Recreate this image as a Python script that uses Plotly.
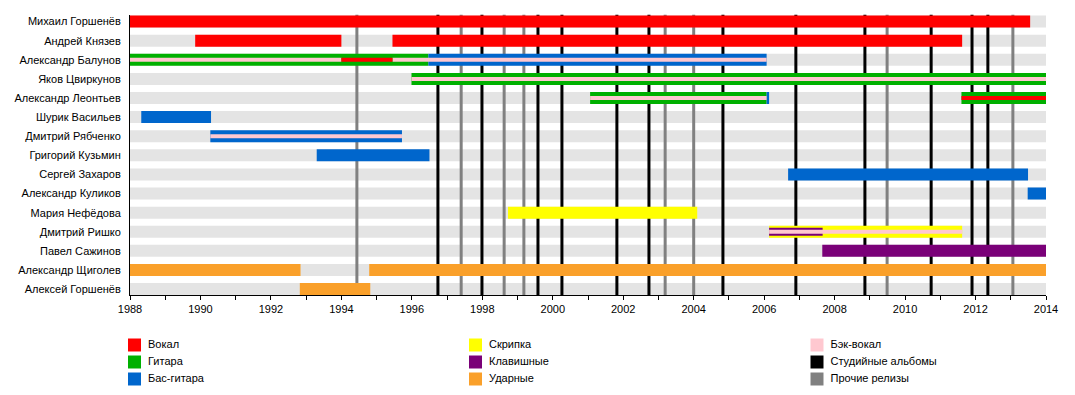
import plotly.graph_objects as go

W, H = 1075, 395
OFF = 8  # page body margin of the rendered html

members = [
    "Михаил Горшенёв", "Андрей Князев", "Александр Балунов", "Яков Цвиркунов",
    "Александр Леонтьев", "Шурик Васильев", "Дмитрий Рябченко", "Григорий Кузьмин",
    "Сергей Захаров", "Александр Куликов", "Мария Нефёдова", "Дмитрий Ришко",
    "Павел Сажинов", "Александр Щиголев", "Алексей Горшенёв",
]

# main (outer) bars
bar_member = [0, 1, 1, 2, 2, 3, 4, 4, 4, 5, 6, 7, 8, 9, 10, 11, 12, 13, 13, 14]
bar_start = [1988.0, 1989.85, 1995.45, 1988.0, 1996.47, 1995.99, 2001.06, 2006.07, 2011.6,
             1988.32, 1990.28, 1993.3, 2006.68, 2013.48, 1998.73, 2006.14, 2007.65,
             1988.0, 1994.79, 1992.82]
bar_end = [2013.55, 1994.0, 2011.62, 1996.47, 2006.07, 2014.0, 2006.07, 2006.14, 2014.0,
           1990.3, 1995.72, 1996.5, 2013.49, 2014.0, 2004.1, 2011.62, 2014.0,
           1992.84, 2014.0, 1994.82]
bar_role = ["Вокал", "Вокал", "Вокал", "Гитара", "Бас-гитара", "Гитара", "Гитара", "Бас-гитара",
            "Гитара", "Бас-гитара", "Бас-гитара", "Бас-гитара", "Бас-гитара", "Бас-гитара",
            "Скрипка", "Скрипка", "Клавишные", "Ударные", "Ударные", "Ударные"]

# secondary (middle) bars
mid_member = [11]
mid_start = [2006.14]
mid_end = [2007.66]
mid_role = ["Клавишные"]

# inner stripes
inner_member = [2, 2, 2, 3, 4, 4, 6, 11]
inner_start = [1988.0, 1994.0, 1995.45, 1995.99, 2001.06, 2011.6, 1990.28, 2006.14]
inner_end = [1994.0, 1995.45, 2006.07, 2014.0, 2006.07, 2014.0, 1995.72, 2011.62]
inner_role = ["Бэк-вокал", "Вокал", "Бэк-вокал", "Бэк-вокал", "Бэк-вокал", "Вокал",
              "Бэк-вокал", "Бэк-вокал"]

studio_albums = [1996.74, 1997.99, 1999.58, 2000.26, 2001.82, 2002.73, 2004.83,
                 2006.9, 2008.86, 2010.74, 2011.9, 2012.35]
other_releases = [1994.44, 1997.4, 1998.62, 1999.18, 2003.19, 2004.0, 2009.49, 2013.06]

legend_labels = ["Вокал", "Гитара", "Бас-гитара", "Скрипка", "Клавишные", "Ударные",
                 "Бэк-вокал", "Студийные альбомы", "Прочие релизы"]
legend_colors = ["#ff0000", "#00b000", "#0066cc", "#ffff00", "#7a0078", "#faa02a",
                 "#ffc8d0", "#000000", "#808080"]
colors = dict(zip(legend_labels, legend_colors))

year_ticks = list(range(1988, 2015))
year_labels = [str(y) if y % 2 == 0 else "" for y in year_ticks]

X0, X1 = 1988, 2014
Y_TOP, Y_BOT = -0.37, 14.31
BAND = "#e4e4e4"
FONT = "Liberation Sans"

fig = go.Figure()


def seg_trace(mem, st, en, width, color):
    xs, ys = [], []
    for m, s, e in zip(mem, st, en):
        xs += [s, e, None]
        ys += [m, m, None]
    fig.add_trace(go.Scatter(x=xs, y=ys, mode="lines", line=dict(color=color, width=width),
                             hoverinfo="skip", showlegend=False))


# background bands
seg_trace(list(range(len(members))), [X0] * len(members), [X1] * len(members), 12, BAND)


def vlines(xs_list, color):
    xs, ys = [], []
    for x in xs_list:
        xs += [x, x, None]
        ys += [Y_TOP, Y_BOT, None]
    fig.add_trace(go.Scatter(x=xs, y=ys, mode="lines", line=dict(color=color, width=3),
                             hoverinfo="skip", showlegend=False))


vlines(other_releases, colors["Прочие релизы"])
vlines(studio_albums, colors["Студийные альбомы"])


def layer(mem, st, en, roles, width):
    for role in dict.fromkeys(roles):
        idx = [i for i, r in enumerate(roles) if r == role]
        seg_trace([mem[i] for i in idx], [st[i] for i in idx], [en[i] for i in idx],
                  width, colors[role])


layer(bar_member, bar_start, bar_end, bar_role, 12)
layer(mid_member, mid_start, mid_end, mid_role, 8)
layer(inner_member, inner_start, inner_end, inner_role, 4)

# legend (drawn on a pixel-space overlay axis)
col_sw = [134.5, 475.5, 817.0]
col_tx = [148.0, 489.0, 830.5]
row_y = [345.0, 362.0, 379.0]
lx, ly, tx = [], [], []
for i, lab in enumerate(legend_labels):
    c, r = divmod(i, 3)
    lx.append(col_sw[c] - OFF)
    ly.append(row_y[r] - OFF)
    tx.append(col_tx[c] - OFF)
fig.add_trace(go.Scatter(x=lx, y=ly, mode="markers", xaxis="x2", yaxis="y2",
                         marker=dict(symbol="square", size=13, color=legend_colors,
                                     line=dict(width=0)),
                         hoverinfo="skip", showlegend=False))
fig.add_trace(go.Scatter(x=tx, y=ly, mode="text", text=legend_labels, xaxis="x2", yaxis="y2",
                         textposition="middle right",
                         textfont=dict(family=FONT, size=11, color="#000000"),
                         hoverinfo="skip", showlegend=False))

fig.update_layout(
    width=W, height=H,
    margin=dict(l=0, r=0, t=0, b=0, autoexpand=False),
    paper_bgcolor="white", plot_bgcolor="rgba(0,0,0,0)",
    font=dict(family=FONT, size=11, color="#000000"),
    showlegend=False,
    xaxis=dict(domain=[(130 - OFF) / W, (1046 - OFF) / W], range=[X0, X1], tickvals=year_ticks,
               ticktext=year_labels, ticks="outside", ticklen=4, tickcolor="#000000",
               showline=True, linecolor="#000000", linewidth=1, showgrid=False,
               zeroline=False, anchor="y", tickfont=dict(size=11), automargin=False),
    yaxis=dict(domain=[1 - (295 - OFF) / H, 1 - (14.5 - OFF) / H], range=[Y_BOT, Y_TOP],
               tickvals=list(range(len(members))), ticktext=members, ticks="",
               showline=True, linecolor="#000000", linewidth=1, showgrid=False,
               zeroline=False, anchor="x", ticklabelstandoff=6, tickfont=dict(size=11),
               automargin=False),
    xaxis2=dict(domain=[0, 1], range=[0, W], visible=False, anchor="y2", automargin=False),
    yaxis2=dict(domain=[0, 1], range=[H, 0], visible=False, anchor="x2", automargin=False),
)

fig.write_html("out.html")
